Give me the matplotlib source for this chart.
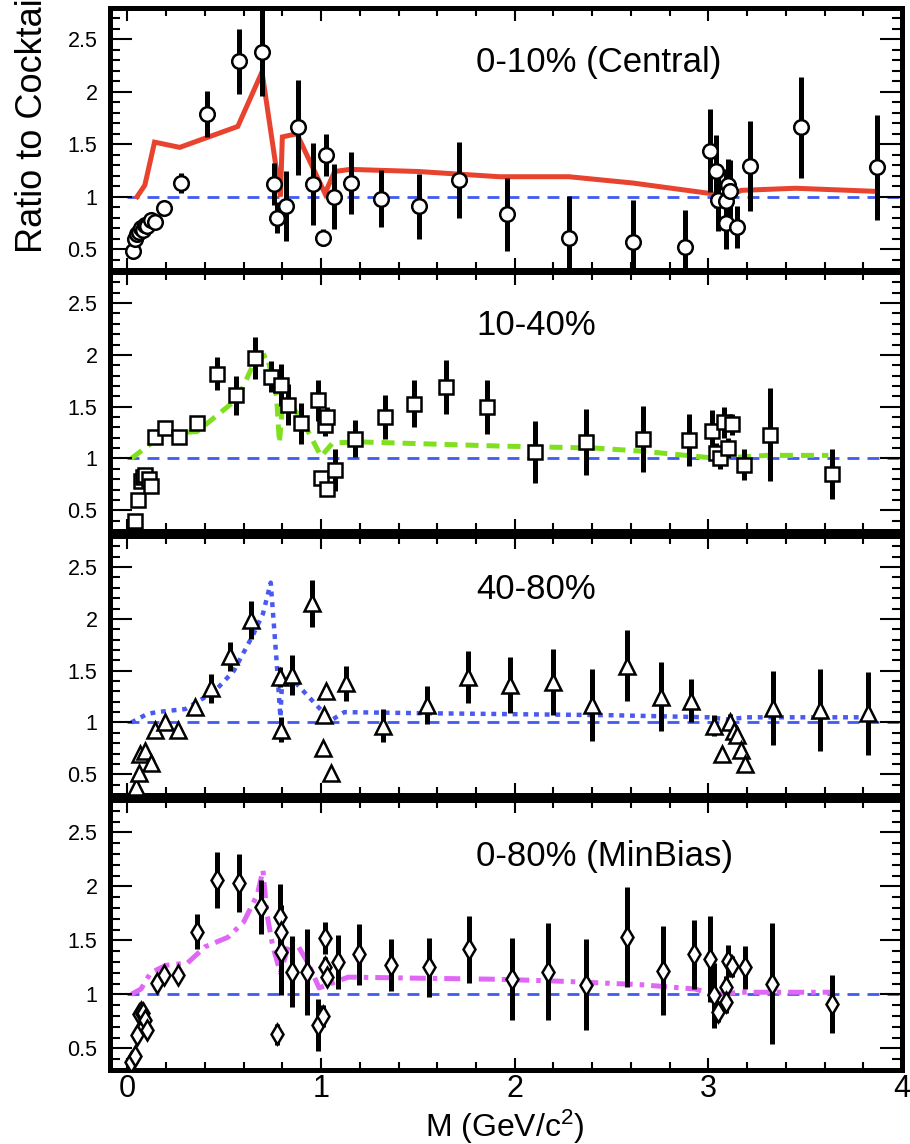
import matplotlib
matplotlib.use("Agg")
import matplotlib.pyplot as plt
from matplotlib.ticker import MultipleLocator, FixedLocator, FixedFormatter

plt.rcParams['font.family'] = ['Liberation Sans', 'DejaVu Sans']
plt.rcParams['mathtext.fontset'] = 'custom'
plt.rcParams['mathtext.rm'] = 'Liberation Sans'
plt.rcParams['mathtext.default'] = 'regular'

# ---------------- data ----------------
# 0-10% (Central): open circles + red model curve
m_cent = [0.03, 0.04, 0.05, 0.06, 0.07, 0.08, 0.09, 0.10, 0.12, 0.14, 0.19, 0.275, 0.41,
          0.577, 0.696, 0.756, 0.773, 0.82, 0.879, 0.96, 1.01, 1.023, 1.068, 1.152, 1.31,
          1.507, 1.714, 1.96, 2.28, 2.61, 2.88, 3.006, 3.04, 3.05, 3.09, 3.10, 3.11, 3.09,
          3.15, 3.216, 3.48, 3.87]
r_cent = [0.48, 0.60, 0.64, 0.66, 0.70, 0.68, 0.73, 0.72, 0.78, 0.76, 0.89, 1.13, 1.79,
          2.29, 2.38, 1.12, 0.80, 0.91, 1.66, 1.12, 0.61, 1.40, 1.00, 1.13, 0.98,
          0.91, 1.16, 0.83, 0.61, 0.57, 0.52, 1.44, 1.24, 0.97, 0.96, 1.11, 1.05, 0.75,
          0.71, 1.29, 1.66, 1.28]
e_cent = [0.02, 0.02, 0.02, 0.02, 0.02, 0.02, 0.02, 0.02, 0.03, 0.03, 0.04, 0.10, 0.22,
          0.31, 0.42, 0.20, 0.15, 0.33, 0.45, 0.39, 0.08, 0.20, 0.31, 0.30, 0.27,
          0.31, 0.36, 0.35, 0.40, 0.40, 0.35, 0.40, 0.35, 0.30, 0.30, 0.25, 0.30, 0.25,
          0.20, 0.43, 0.48, 0.50]
model_cent_m = [0.05, 0.09, 0.14, 0.27, 0.57, 0.695, 0.79, 0.80, 0.875, 1.02, 1.07, 1.15,
                1.5, 1.92, 2.28, 2.61, 3.01, 3.1, 3.17, 3.45, 3.87]
model_cent_r = [1.0, 1.11, 1.52, 1.47, 1.67, 2.19, 1.0, 1.57, 1.60, 1.03, 1.24, 1.26,
                1.24, 1.19, 1.19, 1.13, 1.03, 1.0, 1.06, 1.08, 1.05]

# 10-40%: open squares + green dashed model
m_mid = [0.038, 0.055, 0.07, 0.08, 0.09, 0.11, 0.12, 0.141, 0.193, 0.265, 0.36, 0.46,
         0.563, 0.658, 0.739, 0.795, 0.83, 0.896, 0.985, 1.0, 1.02, 1.03, 1.03, 1.07,
         1.175, 1.33, 1.48, 1.645, 1.855, 2.105, 2.37, 2.66, 2.90, 3.02, 3.04, 3.06,
         3.08, 3.1, 3.12, 3.185, 3.316, 3.64]
r_mid = [0.40, 0.60, 0.78, 0.82, 0.84, 0.80, 0.73, 1.21, 1.29, 1.21, 1.34, 1.82,
         1.61, 1.97, 1.79, 1.71, 1.52, 1.34, 1.56, 0.81, 1.32, 1.40, 0.71, 0.89,
         1.19, 1.40, 1.53, 1.69, 1.50, 1.06, 1.16, 1.19, 1.18, 1.27, 1.05, 1.00,
         1.35, 1.10, 1.33, 0.94, 1.23, 0.85]
e_mid = [0.01, 0.01, 0.02, 0.02, 0.02, 0.02, 0.02, 0.03, 0.03, 0.03, 0.04, 0.16,
         0.19, 0.20, 0.15, 0.20, 0.20, 0.20, 0.20, 0.05, 0.10, 0.10, 0.05, 0.20,
         0.18, 0.21, 0.23, 0.26, 0.26, 0.30, 0.32, 0.32, 0.25, 0.20, 0.10, 0.10,
         0.15, 0.10, 0.10, 0.15, 0.45, 0.24]
model_mid_m = [0.02, 0.14, 0.2, 0.36, 0.57, 0.66, 0.72, 0.77, 0.785, 0.80, 0.85, 0.9,
               1.0, 1.06, 1.2, 1.92, 2.42, 2.66, 2.94, 3.05, 3.3, 3.62]
model_mid_r = [1.0, 1.17, 1.24, 1.26, 1.58, 1.95, 2.0, 1.6, 1.15, 1.5, 1.5, 1.38,
               1.02, 1.15, 1.16, 1.12, 1.10, 1.07, 1.02, 1.0, 1.03, 1.03]

# 40-80%: open triangles + blue dotted model
m_peri = [0.046, 0.06, 0.067, 0.09, 0.12, 0.14, 0.193, 0.26, 0.35, 0.434, 0.529, 0.637,
          0.787, 0.795, 0.85, 0.951, 1.008, 1.017, 1.025, 1.05, 1.128, 1.318, 1.545,
          1.757, 1.976, 2.2, 2.40, 2.58, 2.756, 2.91, 3.03, 3.07, 3.11, 3.13, 3.15, 3.17,
          3.187, 3.336, 3.578, 3.827]
r_peri = [0.38, 0.51, 0.70, 0.72, 0.61, 0.93, 1.0, 0.93, 1.15, 1.33, 1.64, 1.99,
          1.44, 0.93, 1.46, 2.15, 0.75, 1.07, 1.30, 0.51, 1.38, 0.97, 1.17,
          1.44, 1.36, 1.39, 1.17, 1.55, 1.25, 1.21, 0.97, 0.70, 1.0, 0.92, 0.88, 0.73,
          0.60, 1.14, 1.12, 1.09]
e_peri = [0.01, 0.01, 0.02, 0.02, 0.02, 0.02, 0.02, 0.02, 0.03, 0.14, 0.14, 0.18,
          0.10, 0.12, 0.19, 0.23, 0.03, 0.05, 0.05, 0.03, 0.17, 0.16, 0.18,
          0.25, 0.27, 0.32, 0.35, 0.34, 0.33, 0.21, 0.10, 0.05, 0.08, 0.05, 0.05, 0.05,
          0.05, 0.36, 0.40, 0.40]
model_peri_m = [0.02, 0.1, 0.15, 0.3, 0.45, 0.55, 0.65, 0.70, 0.74, 0.77, 0.79, 0.80,
                0.85, 0.95, 1.02, 1.06, 1.12, 1.5, 2.0, 2.5, 3.0, 3.1, 3.2, 3.5, 3.83]
model_peri_r = [1.0, 1.08, 1.10, 1.13, 1.3, 1.5, 1.85, 2.05, 2.35, 1.6, 1.05, 1.44,
                1.42, 1.22, 1.08, 1.03, 1.10, 1.09, 1.08, 1.07, 1.05, 1.03, 1.05, 1.05, 1.05]

# 0-80% (MinBias): open diamonds + magenta dash-dot model
m_mb = [0.02, 0.04, 0.05, 0.06, 0.07, 0.08, 0.09, 0.10, 0.153, 0.19, 0.26, 0.357, 0.46,
        0.577, 0.692, 0.77, 0.787, 0.795, 0.795, 0.85, 0.928, 0.985, 1.008, 1.02, 1.02,
        1.03, 1.085, 1.197, 1.36, 1.557, 1.765, 1.985, 2.174, 2.368, 2.579, 2.765,
        2.928, 3.009, 3.03, 3.05, 3.09, 3.09, 3.1, 3.12, 3.19, 3.328, 3.638]
r_mb = [0.37, 0.43, 0.62, 0.82, 0.84, 0.83, 0.76, 0.67, 1.11, 1.18, 1.18, 1.58, 2.06,
        2.03, 1.81, 0.63, 1.72, 1.58, 1.39, 1.21, 1.21, 0.72, 0.80, 1.52, 1.25,
        1.16, 1.30, 1.37, 1.27, 1.25, 1.42, 1.14, 1.21, 1.09, 1.53, 1.22,
        1.37, 1.33, 0.99, 0.84, 1.07, 0.93, 1.31, 1.26, 1.25, 1.10, 0.91]
e_mb = [0.01, 0.01, 0.02, 0.02, 0.02, 0.02, 0.02, 0.02, 0.03, 0.03, 0.03, 0.16, 0.26,
        0.27, 0.25, 0.10, 0.30, 0.25, 0.40, 0.33, 0.40, 0.24, 0.10, 0.15, 0.10,
        0.05, 0.25, 0.28, 0.24, 0.27, 0.31, 0.38, 0.45, 0.42, 0.46, 0.41,
        0.32, 0.40, 0.30, 0.10, 0.10, 0.10, 0.15, 0.10, 0.20, 0.56, 0.27]
model_mb_m = [0.02, 0.07, 0.12, 0.2, 0.31, 0.4, 0.52, 0.6, 0.67, 0.70, 0.72, 0.75, 0.79,
              0.84, 0.87, 0.93, 0.99, 1.05, 1.14, 1.5, 1.92, 2.27, 2.65, 2.93, 3.03,
              3.17, 3.48, 3.63]
model_mb_r = [1.0, 1.05, 1.2, 1.27, 1.29, 1.44, 1.53, 1.67, 1.92, 2.15, 1.75, 1.45, 1.2,
              1.5, 1.48, 1.3, 1.06, 1.1, 1.16, 1.15, 1.14, 1.12, 1.09, 1.05, 1.0,
              1.02, 1.02, 1.02]

panel_labels = ['0-10% (Central)', '10-40%', '40-80%', '0-80% (MinBias)']
y_ticks = [0.5, 1, 1.5, 2, 2.5]
y_tick_labels = ['0.5', '1', '1.5', '2', '2.5']
x_ticks = [0, 1, 2, 3, 4]
x_tick_labels = ['0', '1', '2', '3', '4']

# ---------------- figure ----------------
W, H = 910, 1144
fig = plt.figure(figsize=(W / 100, H / 100), dpi=100)

x_left, x_right = 110, 902
panel_px = [(8, 270), (272, 531), (536, 795), (800, 1070)]

panels = [
    dict(m=m_cent, r=r_cent, e=e_cent, mk='o', ms=10.5, mm=model_cent_m, mr=model_cent_r,
         color='#e8432e', ls='-'),
    dict(m=m_mid, r=r_mid, e=e_mid, mk='s', ms=10.5, mm=model_mid_m, mr=model_mid_r,
         color='#80e020', ls=(0, (2.6, 1.6))),
    dict(m=m_peri, r=r_peri, e=e_peri, mk='^', ms=12, mm=model_peri_m, mr=model_peri_r,
         color='#4a5af0', ls=(0, (1.1, 1.3))),
    dict(m=m_mb, r=r_mb, e=e_mb, mk='d', ms=10.5, mm=model_mb_m, mr=model_mb_r,
         color='#e066f5', ls=(0, (3.2, 1.4, 0.9, 1.4))),
]

for i, (p, (top, bot)) in enumerate(zip(panels, panel_px)):
    ax = fig.add_axes([x_left / W, 1 - bot / H, (x_right - x_left) / W, (bot - top) / H])
    ax.set_xlim(-0.09, 4.0)
    ax.set_ylim(0.3, 2.8)

    # reference line at unity
    ax.plot([0, 4], [1, 1], color='#3f5bf0', lw=2.0, ls=(0, (4.3, 2.9)), zorder=1)

    # model curve
    lw = 3.2 if i == 2 else 3.6
    ax.plot(p['mm'], p['mr'], color=p['color'], lw=lw, ls=p['ls'], zorder=1.5,
            solid_joinstyle='miter')

    # data with statistical errors
    ax.errorbar(p['m'], p['r'], yerr=p['e'], fmt='none', ecolor='black',
                elinewidth=3.6, capsize=0, zorder=2)
    ax.plot(p['m'], p['r'], ls='none', marker=p['mk'], ms=p['ms'], mfc='white',
            mec='black', mew=1.8, zorder=3)

    ax.text(1.8, 2.28, panel_labels[i], fontsize=25, va='center', ha='left')

    for s in ax.spines.values():
        s.set_linewidth(3.6)

    ax.xaxis.set_major_locator(FixedLocator(x_ticks))
    ax.xaxis.set_major_formatter(FixedFormatter(x_tick_labels))
    ax.xaxis.set_minor_locator(MultipleLocator(0.2))
    ax.yaxis.set_major_locator(FixedLocator(y_ticks))
    ax.yaxis.set_major_formatter(FixedFormatter(y_tick_labels))
    ax.yaxis.set_minor_locator(MultipleLocator(0.1))

    ax.tick_params(which='both', direction='in', top=True, right=True, width=1.5)
    ax.tick_params(axis='y', which='major', length=16, labelsize=15.5, pad=9)
    ax.tick_params(axis='y', which='minor', length=7)
    ax.tick_params(axis='x', which='major', length=9, labelsize=22, pad=3)
    ax.tick_params(axis='x', which='minor', length=5.5)
    if i < 3:
        ax.tick_params(axis='x', labelbottom=False)

fig.text(33 / W, 1 - 253 / H, 'Ratio to Cocktail', rotation=90, ha='center',
         va='bottom', fontsize=26)
fig.text(505 / W, 1 - 1127 / H, 'M (GeV/c$^{2}$)', ha='center', va='center',
         fontsize=23)

fig.savefig('out.png', dpi=100)
